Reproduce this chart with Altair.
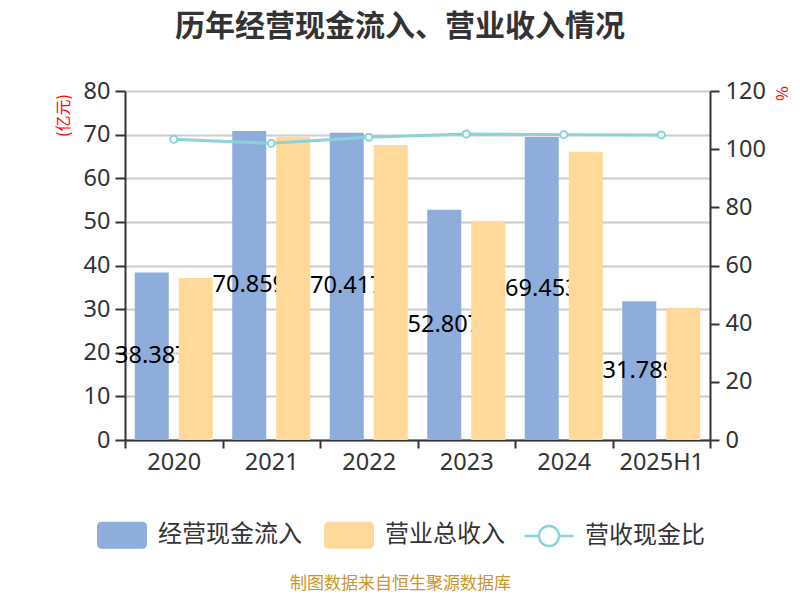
import altair as alt
import pandas as pd

# ---- data ----
years = ["2020", "2021", "2022", "2023", "2024", "2025H1"]
cash_inflow = [38.387, 70.859, 70.417, 52.807, 69.453, 31.789]
cash_labels = ["38.387", "70.859", "70.417", "52.807", "69.453", "31.789"]
revenue = [37.13, 69.5, 67.6, 50.2, 66.1, 30.3]
ratio = [103.4, 102.0, 104.1, 105.2, 105.0, 104.9]
series_names = ["经营现金流入", "营业总收入"]
ratio_name = "营收现金比"
left_ticks = [0, 10, 20, 30, 40, 50, 60, 70, 80]
right_ticks = [0, 20, 40, 60, 80, 100, 120]

# ---- styles ----
BLUE = "#8EADDB"
ORANGE = "#FFD99A"
TEAL = "#88D4D8"
CJK = "Noto Sans CJK SC"
NUM = "Noto Sans"

cash_df = pd.DataFrame({"year": years, "series": series_names[0],
                        "value": cash_inflow, "label": cash_labels})
rev_df = pd.DataFrame({"year": years, "series": series_names[1], "value": revenue})
ratio_df = pd.DataFrame({"year": years, "name": ratio_name, "ratio": ratio})

RR_PATH = ("M-0.8,-0.54 H0.8 Q1,-0.54 1,-0.34 V0.34 Q1,0.54 0.8,0.54 "
           "H-0.8 Q-1,0.54 -1,0.34 V-0.34 Q-1,-0.54 -0.8,-0.54 Z")
LINE_PATH = ("M-1,0 H-0.41 M0.41,0 H1 M-0.41,0 A0.41,0.41 0 1,1 0.41,0 "
             "A0.41,0.41 0 1,1 -0.41,0")

x_axis = alt.Axis(
    title="制图数据来自恒生聚源数据库", titleColor="#C9952F", titleFont=CJK,
    titleFontSize=17, titleFontWeight="normal", titleX=275, titleY=143,
    titleAlign="center", titleBaseline="middle", titleAngle=0,
    tickBand="extent", labelAngle=0, labelFont=NUM, labelFontSize=23.5,
    labelColor="#333", labelPadding=2, tickSize=8, grid=False,
)
x_enc = alt.X("year:N", sort=years,
              scale=alt.Scale(domain=years, paddingInner=0, paddingOuter=0),
              axis=x_axis)
xoff = alt.XOffset("series:N",
                   scale=alt.Scale(domain=series_names, paddingInner=0.227,
                                   paddingOuter=0.2216))

y_axis = alt.Axis(
    values=left_ticks, title="(亿元)", titleColor="red", titleFont=CJK,
    titleFontSize=16, titleFontWeight="normal", titleAngle=270,
    titleX=-62, titleY=24, titleAlign="center", titleBaseline="middle",
    labelFont=NUM, labelFontSize=23.5, labelColor="#333", labelPadding=5,
    tickSize=10, grid=True, gridColor="#cccccc", gridWidth=2,
)
y_scale = alt.Scale(domain=[0, 80], nice=False)

color_enc = alt.Color(
    "series:N",
    scale=alt.Scale(domain=series_names, range=[BLUE, ORANGE]),
    legend=alt.Legend(
        title=None, orient="none", legendX=-28, legendY=419,
        direction="horizontal", symbolType=RR_PATH, symbolSize=2500,
        symbolStrokeWidth=0, labelFont=CJK, labelFontSize=24,
        labelColor="#333", labelOffset=11, columnPadding=22, padding=0,
    ),
)

blue_bars = alt.Chart(cash_df).mark_bar().encode(
    x=x_enc, xOffset=xoff,
    y=alt.Y("value:Q", scale=y_scale, axis=y_axis),
    color=color_enc,
)
labels = alt.Chart(cash_df).transform_calculate(
    mid="datum.value / 2"
).mark_text(font=NUM, fontSize=23.5, color="black", baseline="middle",
            align="center").encode(
    x=x_enc, xOffset=xoff,
    y=alt.Y("mid:Q", scale=y_scale, axis=y_axis),
    text="label:N",
)
orange_bars = alt.Chart(rev_df).mark_bar().encode(
    x=x_enc, xOffset=xoff,
    y=alt.Y("value:Q", scale=y_scale, axis=y_axis),
    color=color_enc,
)
left = alt.layer(blue_bars, labels, orange_bars)

line = alt.Chart(ratio_df).mark_line(
    strokeWidth=3,
    point=alt.OverlayMarkDef(shape="circle", size=50, filled=True,
                             fill="white", stroke=TEAL, strokeWidth=2),
).encode(
    x=x_enc,
    y=alt.Y("ratio:Q", scale=alt.Scale(domain=[0, 120], nice=False),
            axis=alt.Axis(orient="right", values=right_ticks, title="%",
                          titleColor="red", titleFont=CJK, titleFontSize=16,
                          titleFontWeight="normal", titleAngle=90,
                          titleX=70, titleY=2, titleAlign="center",
                          titleBaseline="middle", labelFont=NUM,
                          labelFontSize=23.5, labelColor="#333",
                          labelPadding=6, tickSize=9, grid=False)),
    stroke=alt.Stroke(
        "name:N", scale=alt.Scale(domain=[ratio_name], range=[TEAL]),
        legend=alt.Legend(
            title=None, orient="none", legendX=398, legendY=419,
            symbolType=LINE_PATH, symbolSize=2401, symbolStrokeWidth=2.5,
            symbolFillColor="white", labelFont=CJK, labelFontSize=24,
            labelColor="#333", labelOffset=10, padding=0,
        ),
    ),
)

chart = alt.layer(left, line).resolve_scale(y="independent").properties(
    width=585, height=349,
    autosize=alt.AutoSizeParams(type="none"),
    padding={"left": 117, "top": 83, "right": 82, "bottom": 152},
    title=alt.TitleParams(
        text="历年经营现金流入、营业收入情况", font=CJK, fontSize=30,
        fontWeight="bold", color="#333", anchor="middle", dx=-17.5,
        offset=37, frame="group",
    ),
).configure_view(stroke=None).configure_axis(
    domainColor="#333", domainWidth=2, tickColor="#333", tickWidth=2,
)

chart.save("out.html", embed_options={"renderer": "svg", "actions": False})
